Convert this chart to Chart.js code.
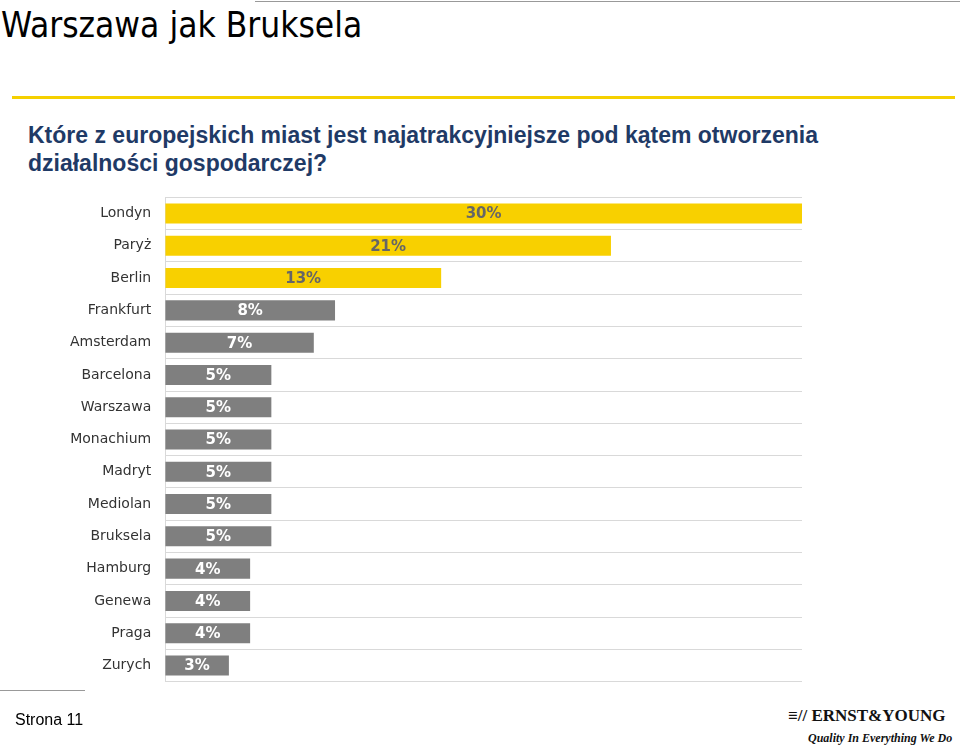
<!DOCTYPE html>
<html><head><meta charset="utf-8">
<script src="https://cdn.jsdelivr.net/npm/chart.js@4/dist/chart.umd.min.js"></script>
<style>
body{margin:0;width:960px;height:746px;position:relative;background:#fff;font-family:"Liberation Sans",Arial,sans-serif;overflow:hidden}
#top{position:absolute;left:255px;top:1px;width:705px;height:1px;background:#999}
#tytul{position:absolute;left:1px;top:5px;font-family:"DejaVu Sans Condensed","DejaVu Sans";font-size:35px;color:#000}
#linia{position:absolute;left:12px;top:96px;width:943px;height:3px;background:#f5d000}
#pytanie{position:absolute;left:28px;top:121px;font-size:23px;color:#1f3a66;line-height:28px;font-weight:bold}
#wykres{position:absolute;left:56px;top:175px;width:761px;height:529px}
#bottom{position:absolute;left:0;top:690px;width:85px;height:1px;background:#999}
#strona{position:absolute;left:15px;top:711px;font-size:16px}
#logo{position:absolute;left:788px;top:706px;font-family:"Liberation Serif";font-weight:bold;font-size:17px;color:#111;white-space:nowrap}
#motto{position:absolute;left:808px;top:731px;font-family:"Liberation Serif";font-style:italic;font-weight:bold;font-size:12px;color:#111;white-space:nowrap}
</style></head><body>
<div id="top"></div>
<div id="tytul">Warszawa jak Bruksela</div>
<div id="linia"></div>
<div id="pytanie">Które z europejskich miast jest najatrakcyjniejsze pod kątem otworzenia<br>działalności gospodarczej?</div>
<div id="wykres"><canvas id="c"></canvas></div>
<div id="bottom"></div>
<div id="strona">Strona 11</div>
<div id="logo">≡// ERNST&amp;YOUNG</div>
<div id="motto">Quality In Everything We Do</div>
<script>
const miasta = ["Londyn","Paryż","Berlin","Frankfurt","Amsterdam","Barcelona","Warszawa","Monachium","Madryt","Mediolan","Bruksela","Hamburg","Genewa","Praga","Zurych"];
const wartosci = [30,21,13,8,7,5,5,5,5,5,5,4,4,4,3];
const kolory = wartosci.map((v,i) => i < 3 ? "#f8d000" : "#7f7f7f");

const etykiety = {
  id: "etykiety",
  afterDatasetsDraw(chart) {
    const ctx = chart.ctx;
    const meta = chart.getDatasetMeta(0);
    ctx.save();
    ctx.font = "bold 15px 'DejaVu Sans'";
    ctx.textAlign = "center";
    ctx.textBaseline = "middle";
    meta.data.forEach((bar, i) => {
      ctx.fillStyle = i < 3 ? "#666" : "#fff";
      ctx.fillText(wartosci[i] + "%", (bar.base + bar.x) / 2, bar.y + 1);
    });
    ctx.restore();
  }
};

new Chart(document.getElementById("c"), {
  type: "bar",
  data: { labels: miasta, datasets: [{ data: wartosci, backgroundColor: kolory, barPercentage: 0.62, categoryPercentage: 1 }] },
  options: {
    indexAxis: "y",
    responsive: true,
    maintainAspectRatio: false,
    animation: false,
    layout: { padding: { right: 15 } },
    plugins: { legend: { display: false }, tooltip: { enabled: false } },
    scales: {
      x: { min: 0, max: 30, display: false },
      y: {
        ticks: { color: "#333", font: { family: "DejaVu Sans", size: 14 }, padding: 14 },
        grid: { color: "#d9d9d9", offset: true, drawTicks: false },
        border: { display: true, color: "#d9d9d9" }
      }
    }
  },
  plugins: [etykiety]
});
</script>
</body></html>
